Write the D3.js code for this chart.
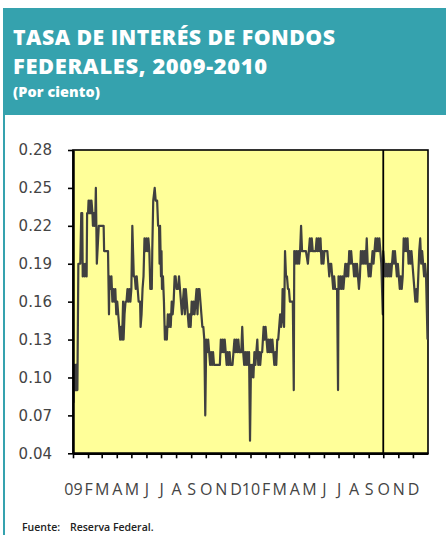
<!DOCTYPE html>
<html>
<head>
<meta charset="utf-8">
<script src="https://cdn.jsdelivr.net/npm/d3@7"></script>
<style>
  html, body { margin: 0; padding: 0; background: #ffffff; }
  svg { display: block; }
</style>
</head>
<body>
<svg id="chart" width="446" height="535"></svg>
<script>
// ---------------- DATA ----------------
const titleLines = ["TASA DE INTERÉS DE FONDOS", "FEDERALES, 2009-2010"];
const subtitle = "(Por ciento)";
const sourceLabel = "Fuente:";
const sourceText = "Reserva Federal.";

const monthLabels = ["09","F","M","A","M","J","J","A","S","O","N","D",
                     "10","F","M","A","M","J","J","A","S","O","N","D"];
const yTicks = [0.04, 0.07, 0.10, 0.13, 0.16, 0.19, 0.22, 0.25, 0.28];
const markerDate = "2010-10-01";

const dates = [
"2009-01-02","2009-01-03","2009-01-04","2009-01-05","2009-01-06","2009-01-07","2009-01-08","2009-01-09","2009-01-10","2009-01-12",
"2009-01-14","2009-01-16","2009-01-18","2009-01-20","2009-01-21","2009-01-23","2009-01-25","2009-01-27","2009-01-29","2009-01-30",
"2009-02-01","2009-02-02","2009-02-04","2009-02-05","2009-02-07","2009-02-08","2009-02-10","2009-02-11","2009-02-13","2009-02-14",
"2009-02-16","2009-02-17","2009-02-19","2009-02-23","2009-03-01","2009-03-05","2009-03-06","2009-03-14","2009-03-16","2009-03-17",
"2009-03-19","2009-03-21","2009-03-23","2009-03-25","2009-03-27","2009-03-29","2009-03-31","2009-04-02","2009-04-04","2009-04-06",
"2009-04-08","2009-04-10","2009-04-12","2009-04-14","2009-04-15","2009-04-17","2009-04-19","2009-04-21","2009-04-23","2009-04-25",
"2009-04-27","2009-04-29","2009-05-01","2009-05-03","2009-05-06","2009-05-08","2009-05-10","2009-05-12","2009-05-14","2009-05-16",
"2009-05-19","2009-05-20","2009-05-22","2009-05-24","2009-05-26","2009-05-28","2009-05-30","2009-06-01","2009-06-03","2009-06-05",
"2009-06-07","2009-06-09","2009-06-12","2009-06-13","2009-06-15","2009-06-18","2009-06-20","2009-06-23","2009-06-25","2009-06-27",
"2009-06-28","2009-06-29","2009-07-01","2009-07-02","2009-07-03","2009-07-05","2009-07-07","2009-07-09","2009-07-11","2009-07-13",
"2009-07-15","2009-07-17","2009-07-19","2009-07-21","2009-07-23","2009-07-25","2009-07-27","2009-07-29","2009-07-31","2009-08-02",
"2009-08-05","2009-08-07","2009-08-09","2009-08-11","2009-08-13","2009-08-15","2009-08-17","2009-08-19","2009-08-21","2009-08-23",
"2009-08-25","2009-08-27","2009-08-29","2009-08-31","2009-09-02","2009-09-04","2009-09-06","2009-09-08","2009-09-10","2009-09-12",
"2009-09-14","2009-09-16","2009-09-18","2009-09-20","2009-09-22","2009-09-24","2009-09-26","2009-09-28","2009-09-30","2009-10-02",
"2009-10-04","2009-10-06","2009-10-08","2009-10-10","2009-10-12","2009-10-14","2009-10-16","2009-10-18","2009-10-22","2009-10-26",
"2009-10-30","2009-11-01","2009-11-03","2009-11-05","2009-11-07","2009-11-09","2009-11-11","2009-11-13","2009-11-15","2009-11-17",
"2009-11-19","2009-11-21","2009-11-23","2009-11-25","2009-11-27","2009-11-29","2009-12-01","2009-12-03","2009-12-05","2009-12-07",
"2009-12-09","2009-12-11","2009-12-13","2009-12-15","2009-12-17","2009-12-19","2009-12-21","2009-12-23","2009-12-25","2009-12-27",
"2009-12-29","2009-12-31","2010-01-02","2010-01-03","2010-01-05","2010-01-07","2010-01-09","2010-01-11","2010-01-13","2010-01-15",
"2010-01-17","2010-01-19","2010-01-21","2010-01-23","2010-01-25","2010-01-28","2010-01-30","2010-02-01","2010-02-03","2010-02-05",
"2010-02-07","2010-02-09","2010-02-11","2010-02-13","2010-02-15","2010-02-17","2010-02-19","2010-02-21","2010-02-23","2010-02-25",
"2010-02-27","2010-03-01","2010-03-03","2010-03-05","2010-03-07","2010-03-08","2010-03-09","2010-03-11","2010-03-13","2010-03-15",
"2010-03-17","2010-03-19","2010-03-21","2010-03-23","2010-03-25","2010-03-27","2010-03-29","2010-03-31","2010-04-01","2010-04-03",
"2010-04-05","2010-04-07","2010-04-09","2010-04-11","2010-04-13","2010-04-15","2010-04-17","2010-04-19","2010-04-21","2010-04-23",
"2010-04-25","2010-04-29","2010-05-01","2010-05-03","2010-05-05","2010-05-07","2010-05-09","2010-05-11","2010-05-13","2010-05-15",
"2010-05-17","2010-05-19","2010-05-21","2010-05-23","2010-05-25","2010-05-27","2010-05-29","2010-05-31","2010-06-02","2010-06-04",
"2010-06-06","2010-06-08","2010-06-10","2010-06-12","2010-06-14","2010-06-16","2010-06-18","2010-06-20","2010-06-22","2010-06-24",
"2010-06-26","2010-06-28","2010-06-30","2010-07-01","2010-07-03","2010-07-05","2010-07-07","2010-07-09","2010-07-11","2010-07-13",
"2010-07-15","2010-07-17","2010-07-19","2010-07-21","2010-07-23","2010-07-25","2010-07-27","2010-07-29","2010-07-31","2010-08-02",
"2010-08-04","2010-08-06","2010-08-08","2010-08-10","2010-08-12","2010-08-14","2010-08-16","2010-08-18","2010-08-20","2010-08-22",
"2010-08-24","2010-08-26","2010-08-28","2010-08-30","2010-09-01","2010-09-03","2010-09-05","2010-09-07","2010-09-09","2010-09-11",
"2010-09-13","2010-09-15","2010-09-17","2010-09-19","2010-09-21","2010-09-23","2010-09-25","2010-09-27","2010-09-30","2010-10-01",
"2010-10-03","2010-10-05","2010-10-07","2010-10-09","2010-10-11","2010-10-13","2010-10-15","2010-10-17","2010-10-19","2010-10-21",
"2010-10-23","2010-10-25","2010-10-27","2010-10-29","2010-10-31","2010-11-02","2010-11-04","2010-11-06","2010-11-08","2010-11-10",
"2010-11-12","2010-11-14","2010-11-16","2010-11-18","2010-11-20","2010-11-22","2010-11-24","2010-11-26","2010-11-28","2010-11-30",
"2010-12-02","2010-12-04","2010-12-06","2010-12-08","2010-12-10","2010-12-12","2010-12-14","2010-12-16","2010-12-18","2010-12-20",
"2010-12-22","2010-12-24","2010-12-26","2010-12-28","2010-12-31"
];

const rates = [
0.08,0.11,0.11,0.09,0.11,0.09,0.11,0.09,0.09,0.19,
0.19,0.19,0.23,0.23,0.18,0.19,0.18,0.19,0.18,0.23,
0.23,0.24,0.23,0.24,0.23,0.24,0.23,0.22,0.23,0.22,
0.23,0.25,0.19,0.22,0.22,0.22,0.20,0.20,0.15,0.18,
0.17,0.18,0.16,0.17,0.16,0.17,0.15,0.16,0.15,0.14,
0.13,0.14,0.13,0.16,0.13,0.15,0.16,0.16,0.17,0.16,
0.17,0.16,0.17,0.22,0.18,0.18,0.17,0.18,0.17,0.16,
0.16,0.14,0.15,0.17,0.18,0.21,0.20,0.21,0.20,0.21,
0.20,0.17,0.17,0.20,0.24,0.25,0.24,0.24,0.22,0.22,
0.19,0.22,0.18,0.20,0.17,0.18,0.16,0.13,0.14,0.13,
0.15,0.14,0.15,0.14,0.16,0.15,0.16,0.18,0.18,0.17,
0.17,0.18,0.17,0.16,0.15,0.16,0.17,0.15,0.17,0.16,
0.15,0.14,0.15,0.14,0.16,0.15,0.16,0.15,0.16,0.17,
0.15,0.17,0.17,0.16,0.15,0.14,0.14,0.13,0.07,0.13,
0.12,0.13,0.12,0.11,0.12,0.11,0.12,0.11,0.11,0.11,
0.11,0.13,0.12,0.13,0.12,0.13,0.12,0.11,0.12,0.11,
0.12,0.11,0.11,0.11,0.12,0.13,0.12,0.13,0.12,0.13,
0.12,0.12,0.12,0.14,0.12,0.11,0.12,0.11,0.12,0.11,
0.12,0.05,0.11,0.10,0.11,0.10,0.12,0.11,0.12,0.13,
0.11,0.12,0.11,0.12,0.12,0.14,0.13,0.14,0.13,0.12,
0.13,0.12,0.13,0.12,0.13,0.12,0.11,0.12,0.11,0.13,
0.13,0.14,0.15,0.14,0.15,0.17,0.15,0.14,0.20,0.18,
0.18,0.17,0.17,0.16,0.16,0.16,0.16,0.09,0.20,0.19,
0.20,0.19,0.20,0.19,0.20,0.22,0.20,0.20,0.20,0.20,
0.20,0.19,0.20,0.21,0.20,0.21,0.20,0.20,0.20,0.20,
0.21,0.20,0.21,0.20,0.21,0.19,0.20,0.19,0.20,0.20,
0.20,0.20,0.19,0.18,0.19,0.19,0.18,0.17,0.18,0.17,
0.17,0.17,0.09,0.18,0.17,0.18,0.17,0.18,0.17,0.18,
0.19,0.18,0.19,0.18,0.20,0.19,0.20,0.19,0.19,0.18,
0.19,0.18,0.19,0.18,0.17,0.18,0.20,0.19,0.20,0.19,
0.20,0.19,0.21,0.19,0.18,0.19,0.18,0.19,0.20,0.19,
0.20,0.21,0.20,0.21,0.20,0.21,0.20,0.19,0.15,0.20,
0.19,0.18,0.19,0.18,0.19,0.18,0.19,0.18,0.19,0.20,
0.19,0.20,0.19,0.18,0.19,0.18,0.17,0.18,0.17,0.18,
0.21,0.20,0.21,0.20,0.21,0.19,0.20,0.19,0.20,0.19,
0.18,0.17,0.16,0.17,0.16,0.18,0.20,0.21,0.19,0.20,
0.19,0.18,0.19,0.18,0.13
];

// ---------------- LAYOUT ----------------
const W = 446, H = 535;
const teal = "#35a2ae";
const plot = { left: 73, right: 428, top: 150, bottom: 453.3 };

const svg = d3.select("#chart");
const parse = d3.timeParse("%Y-%m-%d");
const series = dates.map((d, i) => ({ date: parse(d), value: rates[i] }));

// header
svg.append("rect").attr("x", 3).attr("y", 8).attr("width", W - 3).attr("height", 107).attr("fill", teal);
svg.append("line").attr("x1", 4).attr("x2", 4).attr("y1", 8).attr("y2", H)
  .attr("stroke", teal).attr("stroke-width", 2);

// fit a text element to a target width: grow the font partly, then letter-spacing for the rest
function fitWidth(el, target, baseSize) {
  const w0 = el.getComputedTextLength();
  const size = baseSize * Math.pow(target / w0, 0.7);
  d3.select(el).attr("font-size", size.toFixed(2));
  const w1 = el.getComputedTextLength();
  const n = el.textContent.length;
  d3.select(el).attr("letter-spacing", ((target - w1) / Math.max(1, n - 1)).toFixed(2));
}

const tg = svg.append("g").attr("font-family", "'Open Sans', sans-serif").attr("font-weight", 800).attr("fill", "#ffffff");
const titleWidths = [322, 254];
tg.selectAll("text.title").data(titleLines).join("text")
  .attr("class", "title")
  .attr("x", 13).attr("y", (d, i) => 45 + i * 28.5)
  .attr("font-size", 19.5)
  .text(d => d)
  .each(function (d, i) { fitWidth(this, titleWidths[i], 19.5); });
const sub = tg.append("text").attr("x", 13).attr("y", 97).attr("font-size", 14).text(subtitle);
fitWidth(sub.node(), 87, 14);

// scales
const x = d3.scaleTime()
  .domain([new Date(2009, 0, 1), new Date(2011, 0, 1)])
  .range([plot.left, plot.right]);
const y = d3.scaleLinear()
  .domain([yTicks[0], yTicks[yTicks.length - 1]])
  .range([plot.bottom, plot.top]);

// plot background
svg.append("rect")
  .attr("x", plot.left).attr("y", plot.top)
  .attr("width", plot.right - plot.left).attr("height", plot.bottom - plot.top)
  .attr("fill", "#ffff99").attr("stroke", "#000").attr("stroke-width", 1.6);

// line
const line = d3.line().x(d => x(d.date)).y(d => y(d.value));
svg.append("path").datum(series)
  .attr("d", line)
  .attr("fill", "none")
  .attr("stroke", "#404040")
  .attr("stroke-width", 2.2)
  .attr("stroke-linejoin", "round");

// vertical marker line
svg.append("line")
  .attr("x1", x(parse(markerDate))).attr("x2", x(parse(markerDate)))
  .attr("y1", plot.top).attr("y2", plot.bottom)
  .attr("stroke", "#000").attr("stroke-width", 1.8);

// x axis
const monthTicks = d3.timeMonth.range(new Date(2009, 0, 1), new Date(2010, 11, 2));
const xAxis = d3.axisBottom(x)
  .tickValues(monthTicks)
  .tickSize(5).tickSizeOuter(0)
  .tickFormat((d, i) => monthLabels[i]);
const gx = svg.append("g").attr("transform", `translate(0,${plot.bottom})`).call(xAxis);
gx.select(".domain").attr("stroke", "#000").attr("stroke-width", 2.5);
gx.selectAll(".tick line").attr("stroke", "#000").attr("stroke-width", 1.6);
gx.selectAll(".tick text")
  .attr("y", 42).attr("dy", 0)
  .attr("font-family", "'Open Sans', sans-serif")
  .attr("font-size", 16)
  .attr("fill", "#444");

// y axis
const yAxis = d3.axisLeft(y)
  .tickValues(yTicks)
  .tickSize(5).tickSizeOuter(0)
  .tickPadding(16)
  .tickFormat(d3.format(".2f"));
const gy = svg.append("g").attr("transform", `translate(${plot.left},0)`).call(yAxis);
gy.select(".domain").attr("stroke", "#000").attr("stroke-width", 2.5);
gy.selectAll(".tick line").attr("stroke", "#000").attr("stroke-width", 1.6);
gy.selectAll(".tick text")
  .attr("font-family", "'DejaVu Sans', sans-serif")
  .attr("font-size", 15)
  .attr("fill", "#444");

// footer
const fg = svg.append("g").attr("font-family", "'Open Sans', sans-serif").attr("font-weight", 600)
  .attr("font-size", 10.5).attr("fill", "#222");
fg.append("text").attr("x", 22).attr("y", 531).text(sourceLabel);
fg.append("text").attr("x", 70).attr("y", 531).text(sourceText);
</script>
</body>
</html>
